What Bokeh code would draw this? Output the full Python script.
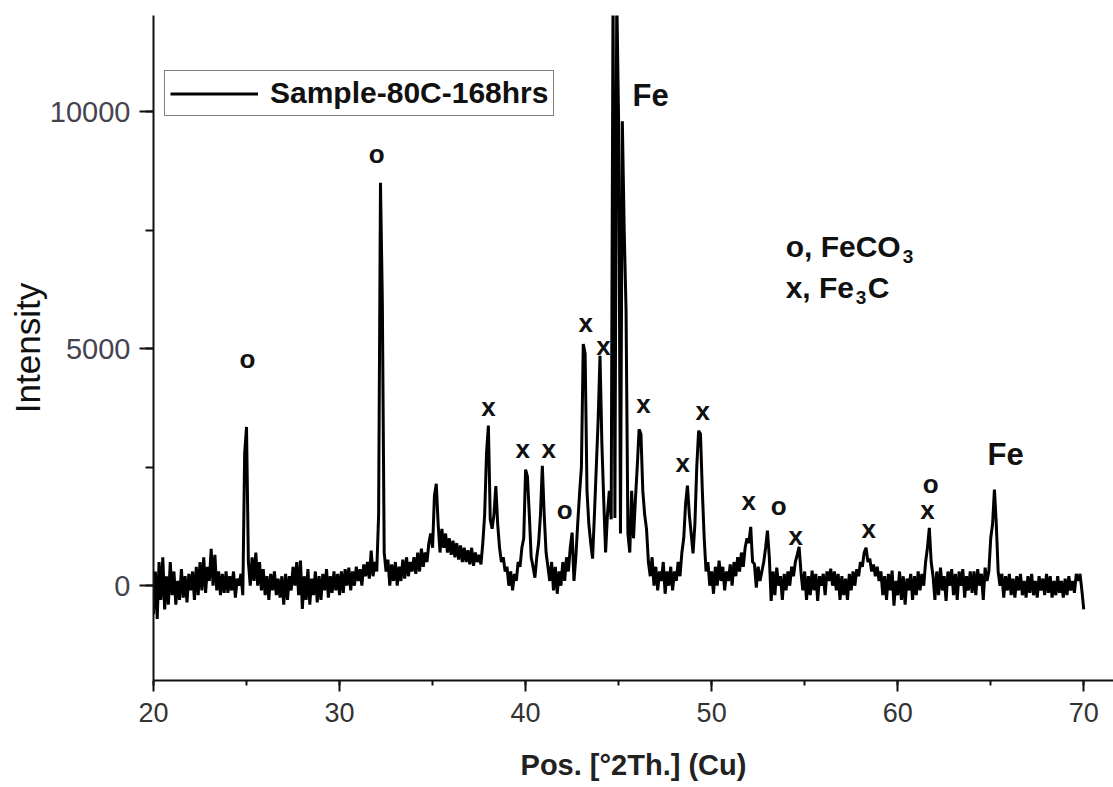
import numpy as np
from bokeh.plotting import figure
from bokeh.models import SingleIntervalTicker, Range1d, BasicTickFormatter, LegendItem, Legend
from bokeh.core.properties import value
from bokeh.embed import file_html
from bokeh.resources import INLINE

# measurement grid, 0.1 degree steps from 20 to 70 (2-theta)
two_theta = np.round(np.arange(200, 701) / 10, 1)

# intensity, one row per degree (x.0 .. x.9)
intensity = [
    -600, 300, -700, 500, -300, 600, -500, 200, -400, 500,      # 20
    -200, 300, -400, 100, -300, 350, -250, 200, -350, 250,      # 21
    -100, 300, -300, 400, -200, 500, -100, 600, -150, 400,      # 22
    100, 780, 0, 650, -100, 300, -200, 250, -150, 300,          # 23
    -150, 200, -100, 300, -250, 150, 0, 250, -200, 2800,        # 24
    3350, 500, 0, 600, 100, 700, 0, 500, -100, 350,             # 25
    -200, 200, -300, 250, -100, 300, -200, 150, -250, 200,      # 26
    -400, 250, -300, 200, -100, 400, 0, 500, -200, 530,         # 27
    -490, 200, -300, 350, -400, 150, -200, 300, -350, 200,      # 28
    -300, 250, -100, 350, -250, 200, -150, 300, -100, 250,      # 29
    -200, 300, -150, 350, 0, 380, -100, 300, 0, 400,            # 30
    100, 350, 0, 450, 200, 500, 150, 740, 200, 500,             # 31
    300, 1500, 8500, 6000, 700, 300, 550, 0, 450, 100,          # 32
    500, 0, 400, 100, 550, 150, 600, 200, 500, 300,             # 33
    600, 250, 700, 300, 780, 400, 700, 500, 900, 1100,          # 34
    800, 1900, 2150, 1300, 700, 1200, 800, 1100, 700, 1000,     # 35
    650, 950, 600, 900, 550, 850, 500, 800, 500, 750,           # 36
    450, 800, 420, 700, 500, 650, 450, 900, 1500, 2800,         # 37
    3380, 1400, 1200, 1500, 2100, 1300, 800, 500, 600, 300,     # 38
    400, 0, 300, -100, 250, 100, 500, 400, 800, 1000,           # 39
    2450, 2300, 1500, 600, 400, 170, 600, 900, 1500, 2530,      # 40
    1500, 700, 400, 100, 500, -100, 400, -170, 300, 0,          # 41
    500, 100, 600, 300, 800, 1120, 100, 600, 1300, 1940,        # 42
    2500, 5100, 4900, 2000, 1300, 900, 570, 1500, 2500, 3500,   # 43
    4850, 3000, 1800, 700, 1500, 2000, 1400, 12500, 1430, 12500,  # 44
    9800, 1100, 9800, 7500, 5800, 1100, 700, 2000, 1000, 1800,  # 45
    2500, 3300, 3200, 2000, 1500, 1200, 500, 200, 600, 0,       # 46
    400, -100, 300, 100, 500, -170, 300, 0, 400, -100,          # 47
    300, 100, 500, 200, 700, 1000, 1730, 2110, 1500, 1100,      # 48
    680, 1300, 2500, 3270, 3200, 2000, 1000, 300, 500, 0,       # 49
    300, -170, 400, 0, 530, 100, 400, -100, 300, 100,           # 50
    450, 0, 500, 200, 600, 300, 700, 400, 800, 1000,            # 51
    900, 1240, 500, 460, -40, 400, 100, 300, 500, 800,          # 52
    1160, 600, -320, 300, -200, 380, 0, 200, -300, 250,         # 53
    -100, 300, 0, 400, 200, 500, 650, 820, 300, -100,           # 54
    300, -300, 200, -200, 320, -100, 250, -320, 200, 0,         # 55
    250, -200, 300, 100, 360, 0, 300, -100, 250, -300,          # 56
    200, -200, 150, -300, 250, -100, 300, 0, 350, 200,          # 57
    500, 400, 700, 800, 500, 570, 300, 450, 200, 400,           # 58
    100, 300, -200, 200, -300, 250, -100, 320, -420, 100,       # 59
    -200, 300, -300, 200, -400, 150, -100, 250, -300, 200,      # 60
    -200, 300, -100, 250, 0, 500, 800, 1220, 500, 200,          # 61
    -300, 300, -200, 380, -100, 200, -320, 300, 0, 350,         # 62
    -200, 250, -300, 300, 0, 350, -250, 200, -100, 300,         # 63
    -150, 300, -200, 350, 0, 250, -300, 380, 100, 300,          # 64
    1000, 1300, 2030, 1300, 300, 0, 250, -250, 200, -100,       # 65
    250, -200, 150, -250, 200, -100, 250, -200, 100, -250,      # 66
    200, -150, 250, -200, 100, -250, 200, -100, 150, -200,      # 67
    250, -150, 200, -250, 100, -200, 200, -150, 100, -250,      # 68
    150, -200, 200, -100, 100, -150, 250, 100, 250, -100,       # 69
    -500,                                                       # 70
]

# phase marks above the peaks (o = FeCO3, x = Fe3C)
mark_theta = [25.05, 31.99, 38.01, 39.84, 41.24, 42.10, 43.23, 44.19, 46.34,
              48.44, 49.52, 51.99, 53.60, 54.52, 58.44, 61.60, 61.77]
mark_intensity = [4790, 9115, 3777, 2890, 2890, 1604, 5550, 5064, 3840,
                  2595, 3690, 1790, 1690, 1055, 1200, 1600, 2150]
mark_text = ["o", "o", "x", "x", "x", "o", "x", "x", "x",
             "x", "x", "x", "o", "x", "x", "x", "o"]

fe_theta = [46.72, 65.80]
fe_intensity = [10340, 2760]
fe_text = ["Fe", "Fe"]

# phase key (chemical formulas drawn with lowered subscripts)
key_theta = [53.98, 53.98]
key_intensity = [7150, 6300]
key_main = ["o, FeCO", "x, Fe"]
key_sub = ["3", "3"]
key_tail = ["", "C"]

FONT = "Liberation Sans"

p = figure(frame_width=960, frame_height=665,
           x_range=Range1d(20, 71.6), y_range=Range1d(-2000, 12030),
           output_backend="svg", toolbar_location=None,
           min_border_left=153, min_border_right=0,
           min_border_top=15, min_border_bottom=107)
p.outline_line_color = None
p.grid.visible = False
p.background_fill_color = "white"
p.border_fill_color = "white"

pattern = p.line(two_theta, intensity, color="black", line_width=3)

p.text(x=mark_theta, y=mark_intensity, text=mark_text,
       text_font=value(FONT), text_font_size="26px", text_font_style="bold",
       text_align="center", text_baseline="middle", text_color="#111111")
p.text(x=fe_theta, y=fe_intensity, text=fe_text,
       text_font=value(FONT), text_font_size="31px", text_font_style="bold",
       text_align="center", text_baseline="middle", text_color="#111111")

# key: main part, subscript, tail
p.text(x=key_theta, y=key_intensity, text=key_main,
       text_font=value(FONT), text_font_size="30px", text_font_style="bold",
       text_align="left", text_baseline="middle", text_color="#111111")
p.text(x=[key_theta[0]], y=[key_intensity[0]], text=[key_sub[0]], x_offset=117, y_offset=10,
       text_font=value(FONT), text_font_size="19px", text_font_style="bold",
       text_align="left", text_baseline="middle", text_color="#111111")
p.text(x=[key_theta[1]], y=[key_intensity[1]], text=[key_sub[1]], x_offset=70, y_offset=10,
       text_font=value(FONT), text_font_size="19px", text_font_style="bold",
       text_align="left", text_baseline="middle", text_color="#111111")
p.text(x=[key_theta[1]], y=[key_intensity[1]], text=[key_tail[1]], x_offset=82,
       text_font=value(FONT), text_font_size="30px", text_font_style="bold",
       text_align="left", text_baseline="middle", text_color="#111111")

# axes
xa = p.xaxis[0]
xa.ticker = SingleIntervalTicker(interval=10, num_minor_ticks=2)
xa.axis_label = "Pos. [°2Th.] (Cu)"
xa.axis_label_text_font = FONT
xa.axis_label_text_font_size = "29px"
xa.axis_label_text_font_style = "bold"
xa.axis_label_text_color = "#222222"
xa.axis_label_standoff = 24
xa.major_label_text_font = FONT
xa.major_label_text_font_size = "27px"
xa.major_label_text_color = "#333333"
xa.major_label_standoff = 11

ya = p.yaxis[0]
ya.ticker = SingleIntervalTicker(interval=5000, num_minor_ticks=2)
ya.formatter = BasicTickFormatter(use_scientific=False)
ya.axis_label = "Intensity"
ya.axis_label_text_font = FONT
ya.axis_label_text_font_size = "35px"
ya.axis_label_text_font_style = "normal"
ya.axis_label_text_color = "#111111"
ya.axis_label_standoff = 0
ya.major_label_text_font = FONT
ya.major_label_text_font_size = "29px"
ya.major_label_text_color = "#444450"
ya.major_label_standoff = 9

for ax in (xa, ya):
    ax.axis_line_color = "#111111"
    ax.axis_line_width = 2
    ax.major_tick_line_color = "#111111"
    ax.minor_tick_line_color = "#111111"
    ax.major_tick_line_width = 2
    ax.minor_tick_line_width = 2
    ax.major_tick_in = 0
    ax.minor_tick_in = 0
xa.major_tick_out = 11
xa.minor_tick_out = 5
ya.major_tick_out = 14
ya.minor_tick_out = 8

leg = Legend(items=[LegendItem(label="Sample-80C-168hrs", renderers=[pattern])])
p.add_layout(leg, "center")
leg.location = (11, 564)
leg.margin = 0
leg.padding = 5
leg.spacing = 0
leg.border_line_color = "black"
leg.border_line_width = 1.5
leg.background_fill_alpha = 1.0
leg.glyph_width = 88
leg.glyph_height = 29
leg.label_height = 29
leg.label_standoff = 12
leg.label_text_font = FONT
leg.label_text_font_size = "30px"
leg.label_text_font_style = "bold"
leg.label_text_color = "#111111"

open("out.html", "w").write(file_html(p, INLINE))
